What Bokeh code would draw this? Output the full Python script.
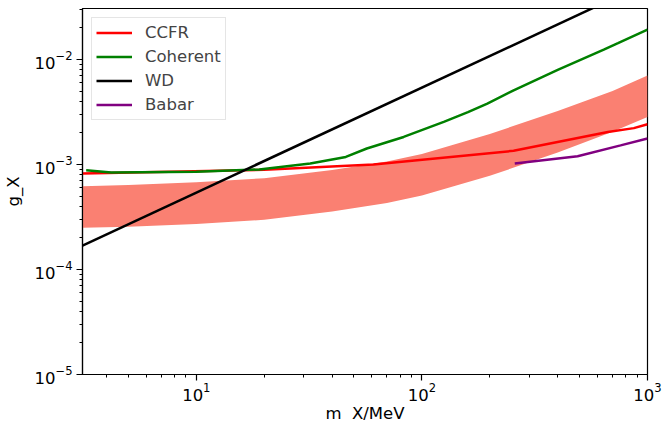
from bokeh.plotting import figure
from bokeh.models import Range1d, Legend, LegendItem, FixedTicker
from bokeh.embed import file_html
from bokeh.resources import INLINE

# Band of the preferred coupling region (lower and upper edge)
band_m = [3.13, 5, 10, 20, 40, 70, 100, 200, 400, 700, 1000]
band_lower = [2.50e-4, 2.56e-4, 2.71e-4, 2.97e-4, 3.56e-4, 4.3e-4, 5.06e-4, 7.8e-4, 1.30e-3, 2.05e-3, 2.83e-3]
band_upper = [6.22e-4, 6.38e-4, 6.76e-4, 7.41e-4, 8.87e-4, 1.07e-3, 1.26e-3, 1.95e-3, 3.24e-3, 5.0e-3, 7.05e-3]

# Exclusion limits
ccfr_m = [3.13, 20, 61, 255, 667, 870, 1000]
ccfr_g = [8.2e-4, 8.9e-4, 1.0e-3, 1.35e-3, 2.04e-3, 2.22e-3, 2.42e-3]

coherent_m = [3.25, 4.2, 10, 19, 32, 46, 57, 83, 125, 160, 195, 255, 400, 640, 740, 1000]
coherent_g = [8.8e-4, 8.4e-4, 8.55e-4, 8.97e-4, 1.02e-3, 1.18e-3, 1.42e-3, 1.83e-3,
              2.55e-3, 3.15e-3, 3.8e-3, 5.08e-3, 7.95e-3, 1.24e-2, 1.43e-2, 1.93e-2]

wd_m = [3.13, 1000]
wd_g = [1.69e-4, 5.4e-2]

babar_m = [258, 490, 760, 1000]
babar_g = [1.02e-3, 1.20e-3, 1.52e-3, 1.77e-3]

# Decade ticks
x_major = [10, 100, 1000]
y_major = [1e-5, 1e-4, 1e-3, 1e-2]
x_decades = [1, 10, 100]
y_decades = [1e-5, 1e-4, 1e-3, 1e-2]
x_minor = [k * d for d in x_decades for k in range(2, 10)]
y_minor = [k * d for d in y_decades for k in range(2, 10)]

FONT = "DejaVu Sans"
FSIZE = "16.5px"

p = figure(width=662, height=425, x_axis_type="log", y_axis_type="log",
           x_range=Range1d(3.13, 1000), y_range=Range1d(1e-5, 3.06e-2),
           output_backend="svg", toolbar_location=None,
           min_border_left=82, min_border_right=15, min_border_top=8, min_border_bottom=51)

p.background_fill_color = "white"
p.border_fill_color = "white"
p.outline_line_color = "black"
p.outline_line_width = 1.2
p.xgrid.visible = False
p.ygrid.visible = False

p.varea(x=band_m, y1=band_lower, y2=band_upper, color="salmon")

r_ccfr = p.line(ccfr_m, ccfr_g, line_color="red", line_width=2.5)
r_coh = p.line(coherent_m, coherent_g, line_color="green", line_width=2.5)
r_wd = p.line(wd_m, wd_g, line_color="black", line_width=2.5)
r_babar = p.line(babar_m, babar_g, line_color="purple", line_width=2.5)

p.xaxis.ticker = FixedTicker(ticks=x_major, minor_ticks=x_minor)
p.yaxis.ticker = FixedTicker(ticks=y_major, minor_ticks=y_minor)

for ax in (p.xaxis[0], p.yaxis[0]):
    ax.axis_line_color = "black"
    ax.axis_line_width = 1.2
    ax.major_tick_in = 0
    ax.major_tick_out = 6
    ax.major_tick_line_width = 1.2
    ax.minor_tick_in = 0
    ax.minor_tick_out = 3
    ax.minor_tick_line_width = 1
    ax.major_label_text_font = FONT
    ax.major_label_text_font_size = FSIZE
    ax.major_label_text_color = "black"
    ax.axis_label_text_font = FONT
    ax.axis_label_text_font_size = FSIZE
    ax.axis_label_text_font_style = "normal"
    ax.axis_label_text_color = "black"

p.xaxis.major_label_standoff = 2
p.yaxis.major_label_standoff = 4
p.xaxis.axis_label = "m\u00a0\u00a0X/MeV"
p.yaxis.axis_label = "g_X"
p.xaxis.axis_label_standoff = 0
p.yaxis.axis_label_standoff = 8

legend = Legend(items=[
    LegendItem(label="CCFR", renderers=[r_ccfr]),
    LegendItem(label="Coherent", renderers=[r_coh]),
    LegendItem(label="WD", renderers=[r_wd]),
    LegendItem(label="Babar", renderers=[r_babar]),
], location="top_left")
legend.margin = 9
legend.padding = 4
legend.spacing = 3
legend.glyph_width = 36
legend.glyph_height = 21
legend.label_height = 21
legend.label_standoff = 13
legend.label_text_font = FONT
legend.label_text_font_size = FSIZE
legend.border_line_color = "#cccccc"
legend.border_line_width = 1
legend.background_fill_alpha = 0.8
p.add_layout(legend, "center")

open("out.html", "w").write(file_html(p, INLINE))
